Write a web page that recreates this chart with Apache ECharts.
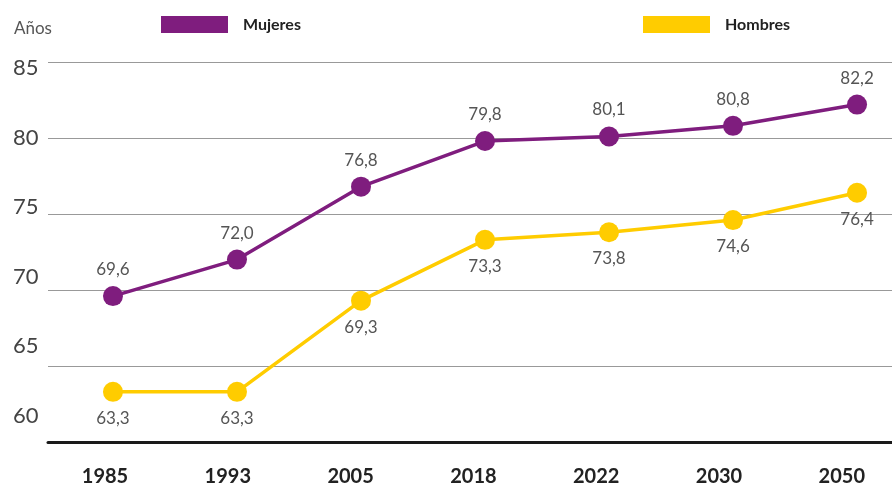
<!DOCTYPE html>
<html>
<head>
<meta charset="utf-8">
<script src="https://cdn.jsdelivr.net/npm/echarts@6/dist/echarts.min.js"></script>
<style>
  html, body { margin: 0; padding: 0; background: #fff; }
  #chart { width: 892px; height: 487px; }
</style>
</head>
<body>
<div id="chart"></div>
<script>
// datos
const years = ['1985', '1993', '2005', '2018', '2022', '2030', '2050'];
const mujeres = [69.6, 72.0, 76.8, 79.8, 80.1, 80.8, 82.2];
const hombres = [63.3, 63.3, 69.3, 73.3, 73.8, 74.6, 76.4];
const yTicks = [60, 65, 70, 75, 80, 85];

const PURPLE = '#7F1D7E';
const YELLOW = '#FFCC00';
const FONT = 'Lato';

const chart = echarts.init(document.getElementById('chart'), null, { renderer: 'canvas' });

function fmt(v) {
  return v.toFixed(1).replace('.', ',');
}

function lineSeries(name, values, color, labelPos) {
  return {
    name: name,
    type: 'line',
    xAxisIndex: 0,
    yAxisIndex: 0,
    data: values.map((v, i) => [i, v]),
    symbol: 'circle',
    symbolSize: 20,
    lineStyle: { color: color, width: 3.5 },
    itemStyle: { color: color },
    label: {
      show: true,
      position: labelPos,
      distance: 8,
      fontFamily: FONT,
      fontSize: 17,
      color: '#555',
      formatter: p => fmt(p.value[1])
    },
    emphasis: { disabled: true },
    animation: false
  };
}

const legendBase = {
  orient: 'horizontal',
  top: 16,
  padding: 0,
  icon: 'rect',
  itemWidth: 67,
  itemHeight: 17,
  selectedMode: false,
  textStyle: {
    fontFamily: FONT,
    fontSize: 16,
    fontWeight: 'bold',
    color: '#222',
    padding: [0, 0, 0, 10]
  }
};

const option = {
  backgroundColor: '#ffffff',
  title: {
    text: 'Años',
    left: 9,
    top: 15,
    textStyle: { fontFamily: FONT, fontSize: 17, fontWeight: 'normal', color: '#555' }
  },
  legend: [
    Object.assign({}, legendBase, { left: 161, data: ['Mujeres'] }),
    Object.assign({}, legendBase, { left: 643, data: ['Hombres'] })
  ],
  grid: { left: 48, right: 0, top: 62, bottom: 45, containLabel: false },
  xAxis: [{
    type: 'value',
    min: -0.524,
    max: 6.282,
    axisLine: { show: true, lineStyle: { color: '#1a1a1a', width: 3 } },
    axisTick: { show: false },
    axisLabel: { show: false },
    splitLine: { show: false }
  }, {
    // eje solo para las etiquetas de años
    type: 'value',
    position: 'bottom',
    min: -0.464,
    max: 6.409,
    axisLine: { show: false },
    axisTick: { show: false },
    splitLine: { show: false },
    axisLabel: {
      customValues: years.map((y, i) => i),
      formatter: v => years[v],
      margin: 25,
      fontFamily: FONT,
      fontSize: 20,
      fontWeight: 'bold',
      color: '#222'
    }
  }],
  yAxis: [{
    type: 'value',
    min: 60,
    max: 85,
    interval: 5,
    axisLine: { show: false },
    axisTick: { show: false },
    axisLabel: { show: false },
    splitLine: { show: true, lineStyle: { color: '#999', width: 1 } }
  }, {
    // eje solo para las etiquetas del eje Y
    type: 'value',
    position: 'left',
    min: 58.13,
    max: 85.43,
    axisLine: { show: false },
    axisTick: { show: false },
    splitLine: { show: false },
    axisLabel: {
      customValues: yTicks,
      align: 'left',
      margin: 35,
      fontFamily: FONT,
      fontSize: 22,
      color: '#444'
    }
  }],
  series: [
    lineSeries('Mujeres', mujeres, PURPLE, 'top'),
    lineSeries('Hombres', hombres, YELLOW, 'bottom')
  ]
};

chart.setOption(option);
</script>
</body>
</html>
